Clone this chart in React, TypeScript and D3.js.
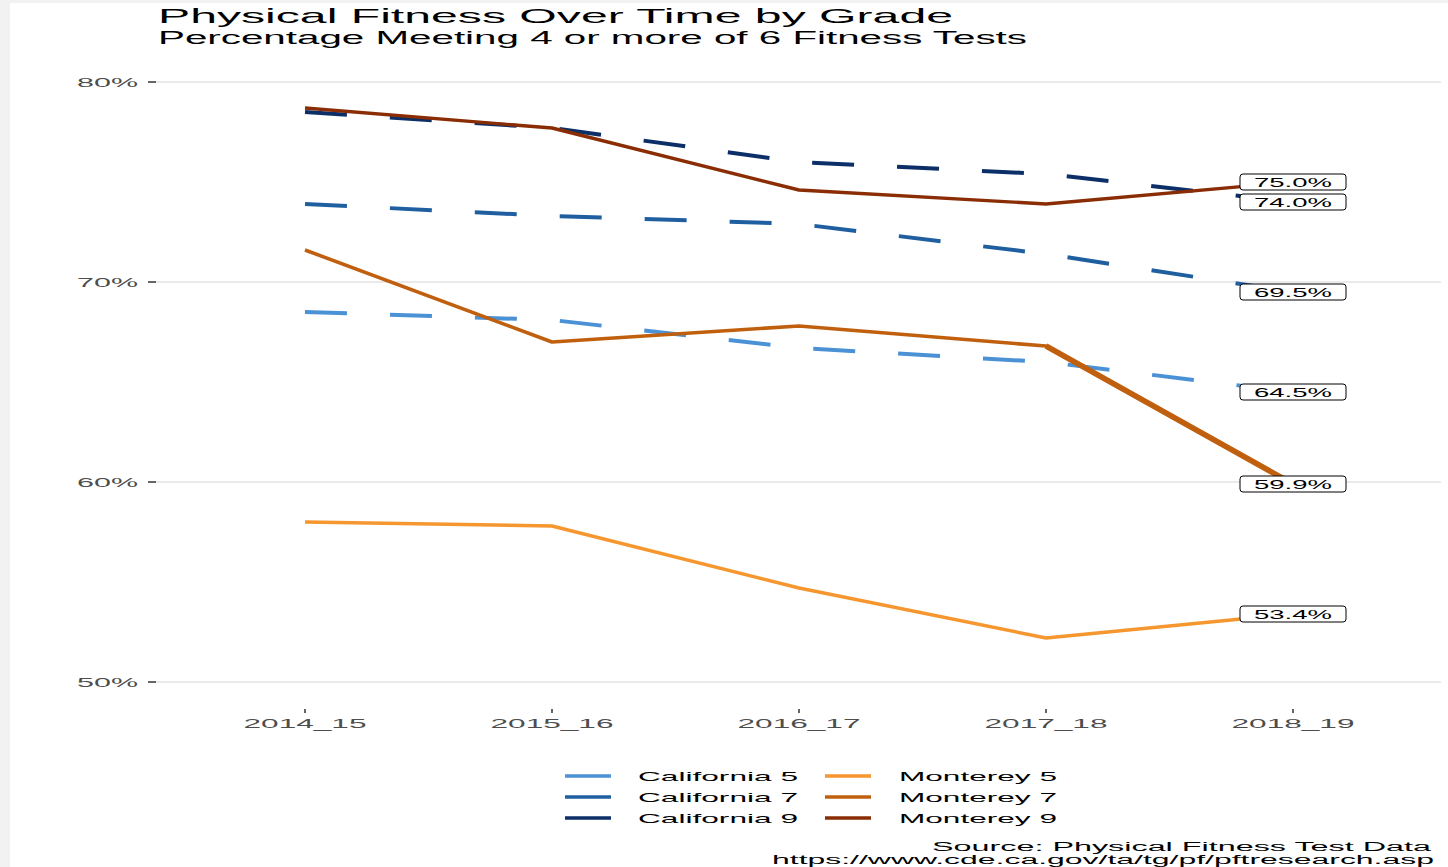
import React from "react";
import * as d3 from "d3";

const years = ["2014_15", "2015_16", "2016_17", "2017_18", "2018_19"];
const seriesNames = ["California 5", "California 7", "California 9", "Monterey 5", "Monterey 7", "Monterey 9"];
const california5 = [68.5, 68.1, 66.7, 66.0, 64.5];
const california7 = [73.9, 73.3, 72.9, 71.4, 69.5];
const california9 = [78.5, 77.7, 76.0, 75.4, 74.0];
const monterey5 = [58.0, 57.8, 54.7, 52.2, 53.4];
const monterey7 = [71.6, 67.0, 67.8, 66.8, 59.9];
const monterey9 = [78.7, 77.7, 74.6, 73.9, 75.0];
const yTicks = [50, 60, 70, 80];

const seriesValues = [california5, california7, california9, monterey5, monterey7, monterey9];
const colors = ["#4b91d6", "#1f5fa0", "#0c2f68", "#f5962e", "#c0600f", "#8a2d04"];
const dashed = [true, true, true, false, false, false];
const widths = [4, 4, 4, 3.4, 3.6, 3.4];

const W = 1448;
const H = 867;

function T(props: any) {
  const { x, y, w, anchor = "start", size, children, fill = "#000" } = props;
  let sx = x;
  if (anchor === "end") sx = x - w;
  else if (anchor === "middle") sx = x - w / 2;
  return (
    <text
      x={sx}
      y={y}
      fontSize={size}
      fill={fill}
      textLength={w}
      lengthAdjust="spacingAndGlyphs"
      fontFamily="'Liberation Sans', Arial, Helvetica, sans-serif"
    >
      {children}
    </text>
  );
}

export default function App() {
  const x = d3.scalePoint<string>().domain(years).range([305, 1293]);
  const y = d3.scaleLinear().domain([50, 80]).range([682, 82]);
  const line = d3
    .line<number>()
    .x((_, i) => x(years[i]) as number)
    .y((d) => y(d));
  const tailLine = d3
    .line<number>()
    .x((_, i) => x(years[i + 3]) as number)
    .y((d) => y(d));

  const labelW = 106;
  const labelH = 16;
  const lastX = x(years[years.length - 1]) as number;

  const legendRows = [0, 1, 2];

  return (
    <svg
      width={W}
      height={H}
      style={{ position: "absolute", left: 0, top: 0, display: "block" }}
    >
      <rect x={0} y={0} width={W} height={H} fill="#f2f2f2" />
      <rect x={10} y={3} width={W - 10} height={H - 3} fill="#ffffff" />

      {/* grid */}
      {yTicks.map((t) => (
        <g key={t}>
          <line x1={156} x2={1441} y1={y(t)} y2={y(t)} stroke="#d6d6d6" strokeWidth={1.2} />
          <line x1={148} x2={156} y1={y(t)} y2={y(t)} stroke="#333" strokeWidth={1.5} />
          <T x={138} y={y(t) + 5} w={61} size={13.5} anchor="end" fill="#4d4d4d">
            {t + "%"}
          </T>
        </g>
      ))}

      {/* x ticks + labels */}
      {years.map((yr) => (
        <g key={yr}>
          <line
            x1={x(yr) as number}
            x2={x(yr) as number}
            y1={709}
            y2={713}
            stroke="#333"
            strokeWidth={1.5}
          />
          <T x={x(yr) as number} y={727.5} w={123} size={13} anchor="middle" fill="#4d4d4d">
            {yr}
          </T>
        </g>
      ))}

      {/* lines */}
      {seriesValues.map((vals, i) => (
        <path
          key={seriesNames[i]}
          d={line(vals) || ""}
          fill="none"
          stroke={colors[i]}
          strokeWidth={widths[i]}
          strokeDasharray={dashed[i] ? "42 43" : undefined}
          strokeLinejoin="round"
        />
      ))}
      {/* thicker final segment of Monterey 7 */}
      <path
        d={tailLine(monterey7.slice(3)) || ""}
        fill="none"
        stroke={colors[4]}
        strokeWidth={5.5}
        strokeLinejoin="round"
      />

      {/* end labels */}
      {seriesValues.map((vals, i) => {
        const v = vals[vals.length - 1];
        const cy = y(v);
        return (
          <g key={"lab" + i}>
            <rect
              x={lastX - labelW / 2}
              y={cy - labelH / 2}
              width={labelW}
              height={labelH}
              rx={3}
              ry={3}
              fill="#fff"
              stroke="#000"
              strokeWidth={1}
            />
            <T x={lastX} y={cy + 5} w={78} size={13} anchor="middle">
              {v.toFixed(1) + "%"}
            </T>
          </g>
        );
      })}

      {/* legend */}
      {legendRows.map((r) => (
        <g key={"leg" + r}>
          <line x1={565} x2={611} y1={776 + r * 21} y2={776 + r * 21} stroke={colors[r]} strokeWidth={3.5} />
          <T x={638} y={781 + r * 21} w={160} size={13.5}>
            {seriesNames[r]}
          </T>
          <line x1={825} x2={871} y1={776 + r * 21} y2={776 + r * 21} stroke={colors[r + 3]} strokeWidth={3.5} />
          <T x={899} y={781 + r * 21} w={158} size={13.5}>
            {seriesNames[r + 3]}
          </T>
        </g>
      ))}

      {/* titles */}
      <T x={158} y={23} w={795} size={21}>
        Physical Fitness Over Time by Grade
      </T>
      <T x={158} y={44} w={869} size={18}>
        Percentage Meeting 4 or more of 6 Fitness Tests
      </T>

      {/* caption */}
      <T x={1431} y={851} w={499} size={12.5} anchor="end">
        Source: Physical Fitness Test Data
      </T>
      <T x={1434} y={864} w={662} size={12.5} anchor="end">
        https://www.cde.ca.gov/ta/tg/pf/pftresearch.asp
      </T>
    </svg>
  );
}
